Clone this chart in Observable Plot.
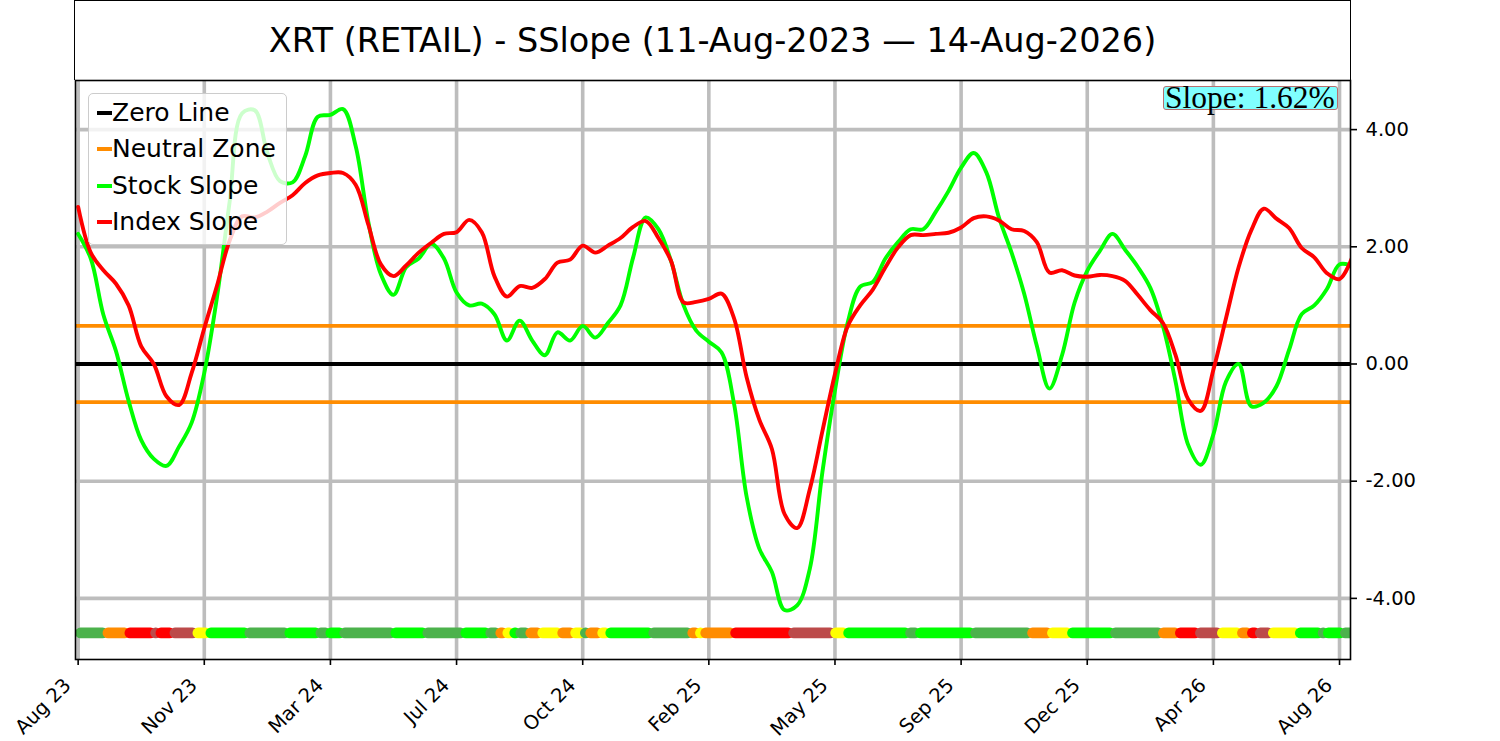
<!DOCTYPE html>
<html>
<head>
<meta charset="utf-8">
<script src="https://cdn.jsdelivr.net/npm/d3@7"></script>
<script src="https://cdn.jsdelivr.net/npm/@observablehq/plot@0.6"></script>
<style>
  html, body { margin: 0; padding: 0; background: #fff; }
  #wrap { position: relative; width: 1500px; height: 741px; overflow: hidden; }
  #title { position: absolute; left: 74.2px; top: 0; width: 1276.6px; height: 80px; box-sizing: border-box;
           border: 1.6px solid #000; border-bottom: none; }
  #title span { position: absolute; left: 0; right: 0; top: 22.5px; text-align: center;
           font-family: "DejaVu Sans"; font-size: 33.5px; line-height: 33.5px; color: #000; white-space: nowrap; }
  #chart { position: absolute; left: 0; top: 79px; }
  #legend { position: absolute; left: 88px; top: 93px; width: 199px; height: 152px; box-sizing: border-box;
            border: 1px solid #cccccc; border-radius: 5px; background: rgba(255,255,255,0.8); }
  .row { position: absolute; left: 0; height: 25px; }
  .row .h { position: absolute; left: 7.7px; width: 15px; height: 4px; top: 11px; }
  .row .t { position: absolute; left: 23px; top: 0; font-family: "DejaVu Sans"; font-size: 25px; line-height: 25px;
            color: #000; white-space: nowrap; }
  #slope { position: absolute; left: 1163px; top: 86px; width: 175px; height: 23.5px; box-sizing: border-box;
           background: #80ffff; border: 1.5px solid #b87070; border-radius: 3px; }
  #slopeText { position: absolute; left: 1165px; top: 82px; font-family: "Liberation Serif"; font-size: 31.5px;
           line-height: 31.5px; color: #000; white-space: nowrap; }
</style>
</head>
<body>
<div id="wrap">
  <div id="title"><span>XRT (RETAIL) - SSlope (11-Aug-2023 — 14-Aug-2026)</span></div>
  <div id="chart"></div>
  <div id="legend"></div>
  <div id="slope"></div>
  <div id="slopeText"></div>
</div>
<script>
// ---- data ----
const tickPos = [0, 10, 20, 30, 40, 50, 60, 70, 80, 90, 100];
const tickLabels = ["Aug 23", "Nov 23", "Mar 24", "Jul 24", "Oct 24", "Feb 25", "May 25", "Sep 25", "Dec 25", "Apr 26", "Aug 26"];
const yTicks = [-4, -2, 0, 2, 4];
const zeroLevel = [0];
const neutralLevels = [0.65, -0.65];

const stockSlope = [
  2.22, 1.80, 0.84, 0.22, -0.63, -1.30, -1.62, -1.74, -1.41, -1.00,
  -0.15, 1.13, 2.75, 4.28, 4.33, 3.60, 3.12, 3.10, 3.55, 4.22,
  4.25, 4.35, 3.72, 2.43, 1.53, 1.18, 1.65, 1.80, 2.05, 1.80,
  1.22, 1.00, 1.03, 0.85, 0.40, 0.74, 0.40, 0.15, 0.54, 0.40,
  0.65, 0.45, 0.70, 1.00, 1.82, 2.50, 2.30, 1.76, 1.00, 0.57,
  0.38, 0.20, -0.68, -2.27, -3.15, -3.55, -4.20, -4.12, -3.50, -1.85,
  -0.45, 0.70, 1.32, 1.40, 1.80, 2.08, 2.30, 2.30, 2.60, 2.95,
  3.35, 3.60, 3.27, 2.50, 1.90, 1.20, 0.31, -0.42, 0.15, 1.05,
  1.59, 1.93, 2.22, 1.95, 1.66, 1.30, 0.65, -0.30, -1.38, -1.72,
  -1.20, -0.30, 0.00, -0.72, -0.66, -0.38, 0.24, 0.85, 1.00, 1.28,
  1.70, 1.68
];
const indexSlope = [
  2.68, 1.90, 1.60, 1.37, 1.00, 0.30, 0.00, -0.55, -0.70, -0.15,
  0.61, 1.33, 2.10, 2.52, 2.50, 2.60, 2.75, 2.88, 3.09, 3.22,
  3.26, 3.26, 3.06, 2.38, 1.70, 1.50, 1.68, 1.90, 2.07, 2.22,
  2.25, 2.46, 2.25, 1.50, 1.15, 1.33, 1.30, 1.45, 1.73, 1.78,
  2.02, 1.90, 2.02, 2.15, 2.34, 2.44, 2.15, 1.76, 1.05, 1.06,
  1.11, 1.20, 0.78, -0.23, -0.95, -1.45, -2.56, -2.80, -2.14, -1.15,
  -0.17, 0.64, 1.00, 1.27, 1.65, 1.99, 2.20, 2.20, 2.22, 2.24,
  2.33, 2.49, 2.52, 2.45, 2.30, 2.27, 2.08, 1.56, 1.60, 1.51,
  1.49, 1.52, 1.50, 1.42, 1.18, 0.92, 0.70, 0.15, -0.60, -0.80,
  -0.10, 0.78, 1.65, 2.28, 2.65, 2.48, 2.32, 1.98, 1.82, 1.55,
  1.45, 1.82
];

// bottom status strip: segment start (in sample units) and state
const stripLevel = -4.59;
const stripLast = 100.87;
const stripStart = [
  -0.2, 1.98, 3.72, 5.78, 6.18, 7.29, 9.11, 10.14, 13.23, 16.40,
  18.86, 19.65, 20.76, 24.80, 27.34, 30.35, 32.33, 33.12, 33.68, 34.23,
  34.71, 35.50, 36.45, 38.03, 39.06, 39.86, 40.25, 41.20, 41.84, 45.25,
  48.34, 48.97, 49.37, 51.74, 56.34, 59.67, 60.70, 65.61, 66.40, 70.76,
  75.28, 76.86, 78.45, 81.85, 85.66, 87.00, 88.59, 90.33, 91.92, 92.71,
  93.34, 94.37, 96.51, 98.34, 98.73, 100.08
];
const stripState = [
  "weakUp", "neutralDown", "down", "weakDown", "down", "weakDown", "neutralUp", "up", "weakUp", "up",
  "weakUp", "up", "weakUp", "up", "weakUp", "up", "weakUp", "neutralDown", "neutralUp", "up",
  "weakUp", "neutralDown", "neutralUp", "neutralDown", "neutralUp", "weakUp", "neutralDown", "neutralUp", "up", "weakUp",
  "neutralDown", "neutralUp", "neutralDown", "down", "weakDown", "neutralUp", "up", "weakUp", "up", "weakUp",
  "neutralDown", "neutralUp", "up", "weakUp", "neutralDown", "down", "weakDown", "neutralUp", "neutralDown", "down",
  "weakDown", "neutralUp", "up", "weakUp", "up", "weakUp"
];
const stateNames = ["up", "weakUp", "neutralUp", "neutralDown", "weakDown", "down"];
const stateColors = ["#00ff00", "#4cb24c", "#ffff00", "#ff8c00", "#bc4a4a", "#ff0000"];

const slopeValue = "1.62%";

// ---- build tables ----
const rows = stockSlope.map((v, i) => ({i, stock: v, index: indexSlope[i]}));
const strip = stripStart.map((s, k) => ({
  start: s,
  end: k + 1 < stripStart.length ? stripStart[k + 1] : stripLast,
  state: stripState[k],
  level: stripLevel
}));

const chart = Plot.plot({
  width: 1500,
  height: 662,
  marginLeft: 75,
  marginRight: 150,
  marginTop: 1,
  marginBottom: 82,
  style: {fontFamily: "DejaVu Sans", fontSize: "19.5px", color: "#000", background: "transparent", overflow: "visible"},
  x: {domain: [-0.21, 100.87]},
  y: {domain: [-5.043, 4.838]},
  color: {domain: stateNames, range: stateColors},
  marks: [
    Plot.gridX(tickPos, {stroke: "#bdbdbd", strokeOpacity: 1, strokeWidth: 3.6}),
    Plot.gridY(yTicks, {stroke: "#bdbdbd", strokeOpacity: 1, strokeWidth: 3.6}),
    Plot.ruleY(zeroLevel, {stroke: "#000000", strokeWidth: 3.9}),
    Plot.ruleY(neutralLevels, {stroke: "#ff8c00", strokeWidth: 3.6}),
    Plot.line(rows, {x: "i", y: "stock", stroke: "#00ff00", strokeWidth: 3.9, curve: "catmull-rom", clip: true}),
    Plot.line(rows, {x: "i", y: "index", stroke: "#ff0000", strokeWidth: 3.9, curve: "catmull-rom", clip: true}),
    Plot.ruleY(strip, {y: "level", x1: d => d.start + 0.42, x2: "end", stroke: "state", strokeWidth: 10.7, strokeLinecap: "round", clip: true}),
    Plot.frame({stroke: "#000", strokeWidth: 1.6}),
    Plot.axisX(tickPos, {tickSize: 6, tickFormat: () => "", strokeWidth: 1.6, label: null}),
    Plot.text(tickPos, {x: d => d, text: (d, i) => tickLabels[i], frameAnchor: "bottom", dy: 27, dx: -6,
      rotate: -45, textAnchor: "end", lineAnchor: "bottom", fontSize: 19.5, fill: "#000"}),
    Plot.axisY(yTicks, {anchor: "right", tickSize: 6, tickPadding: 9, tickFormat: d => d.toFixed(2),
      label: null, strokeWidth: 1.6, fontSize: 19.5, fill: "#000"})
  ]
});
document.getElementById("chart").appendChild(chart);

// legend
const legendItems = [
  {label: "Zero Line", color: "#000000"},
  {label: "Neutral Zone", color: "#ff8c00"},
  {label: "Stock Slope", color: "#00ff00"},
  {label: "Index Slope", color: "#ff0000"}
];
const legend = document.getElementById("legend");
legendItems.forEach((it, k) => {
  const row = document.createElement("div");
  row.className = "row";
  row.style.top = (5.8 + k * 36.4) + "px";
  row.style.width = "195px";
  const h = document.createElement("div");
  h.className = "h";
  h.style.background = it.color;
  const t = document.createElement("div");
  t.className = "t";
  t.textContent = it.label;
  row.appendChild(h);
  row.appendChild(t);
  legend.appendChild(row);
});
document.getElementById("slopeText").textContent = "Slope: " + slopeValue;
</script>
</body>
</html>
